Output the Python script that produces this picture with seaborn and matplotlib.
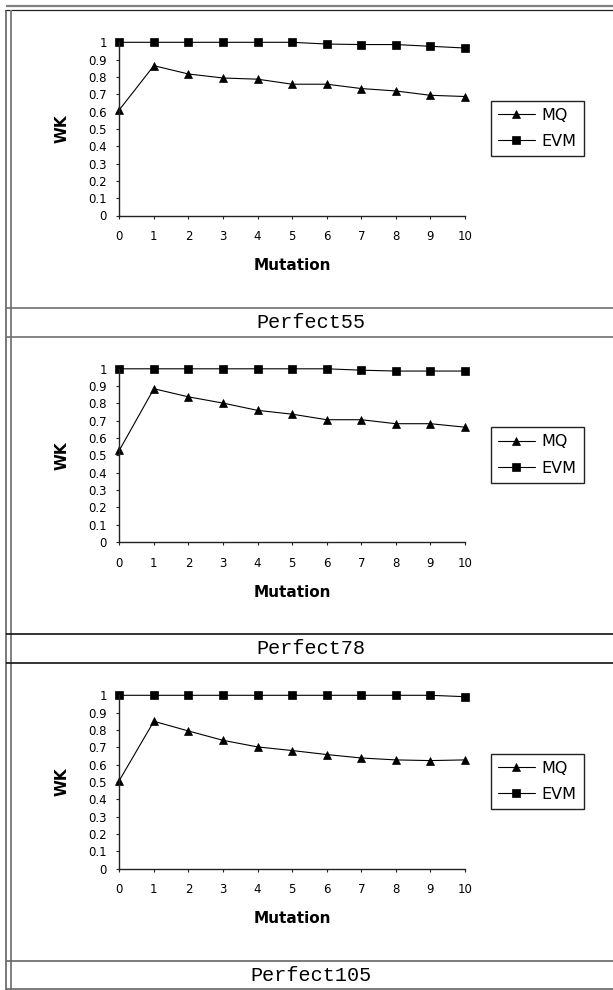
import matplotlib
matplotlib.use("Agg")
import matplotlib.pyplot as plt
import seaborn as sns
import pandas as pd

# ---- data ----
mutation = list(range(11))
panel_names = ["Perfect55", "Perfect78", "Perfect105"]
mq_55 = [0.61, 0.865, 0.817, 0.794, 0.787, 0.758, 0.758, 0.733, 0.719, 0.694, 0.687]
evm_55 = [1.0, 1.0, 1.0, 1.0, 1.0, 1.0, 0.99, 0.987, 0.987, 0.977, 0.967]
mq_78 = [0.529, 0.885, 0.838, 0.802, 0.76, 0.738, 0.706, 0.706, 0.683, 0.683, 0.663]
evm_78 = [1.0, 1.0, 1.0, 1.0, 1.0, 1.0, 1.0, 0.992, 0.987, 0.987, 0.987]
mq_105 = [0.508, 0.85, 0.794, 0.74, 0.702, 0.681, 0.658, 0.638, 0.627, 0.623, 0.627]
evm_105 = [1.0, 1.0, 1.0, 1.0, 1.0, 1.0, 1.0, 1.0, 1.0, 1.0, 0.992]
series_names = ["MQ", "EVM"]
y_ticks = [0, 0.1, 0.2, 0.3, 0.4, 0.5, 0.6, 0.7, 0.8, 0.9, 1]
y_tick_labels = ["0", "0.1", "0.2", "0.3", "0.4", "0.5", "0.6", "0.7", "0.8", "0.9", "1"]

panels = [(mq_55, evm_55), (mq_78, evm_78), (mq_105, evm_105)]

sns.set_style("white")
plt.rcParams["font.family"] = ["DejaVu Sans"]
plt.rcParams["text.color"] = "black"
plt.rcParams["axes.labelcolor"] = "black"
plt.rcParams["xtick.color"] = "black"
plt.rcParams["ytick.color"] = "black"

W, H = 613, 990
fig = plt.figure(figsize=(W / 100, H / 100), dpi=100)

# background layer for the table frame
bg = fig.add_axes([0, 0, 1, 1], zorder=-5)
bg.set_xlim(0, W)
bg.set_ylim(H, 0)
bg.axis("off")
bg.hlines(5.8, 5.5, W, color="#808080", lw=1.6)
bg.hlines(10.3, 5, W, color="#222222", lw=0.9)
bg.vlines(6.2, 10.3, H, color="#555555", lw=1.1)
bg.vlines(10.8, 10.3, H, color="#808080", lw=1.4)

row_lines = [(308, 337, "#707070"), (634, 663, "#111111"), (961, 989, "#666666")]
for (y1, y2, col), name in zip(row_lines, panel_names):
    bg.hlines([y1, y2], 6, W, color=col, lw=1.2)
    bg.text(311, (y1 + y2) / 2 + 0.5, name, ha="center", va="center",
            family=["Liberation Mono", "DejaVu Sans Mono"], fontsize=14.5, color="black")

left, right = 119.3, 465.0
for k, (mq, evm) in enumerate(panels):
    top = 42.3 + 326.5 * k
    bottom = top + 173.2
    ax = fig.add_axes([left / W, 1 - bottom / H, (right - left) / W, (bottom - top) / H])
    df = pd.DataFrame({
        "Mutation": mutation * 2,
        "WK": list(mq) + list(evm),
        "Method": [series_names[0]] * len(mq) + [series_names[1]] * len(evm),
    })
    sns.lineplot(data=df, x="Mutation", y="WK", hue="Method", style="Method",
                 hue_order=series_names, style_order=series_names,
                 markers={"MQ": "^", "EVM": "s"}, dashes=False,
                 palette={"MQ": "black", "EVM": "black"},
                 markersize=5.5, markeredgecolor="black", markeredgewidth=0.5,
                 linewidth=0.8, clip_on=False, ax=ax)
    ax.set_xlim(0, 10)
    ax.set_ylim(0, 1)
    ax.set_xticks(mutation)
    ax.set_xticklabels([str(m) for m in mutation])
    ax.set_yticks(y_ticks)
    ax.set_yticklabels(y_tick_labels)
    for side in ["top", "right"]:
        ax.spines[side].set_visible(False)
    for side in ["left", "bottom"]:
        ax.spines[side].set_color("#222222")
        ax.spines[side].set_linewidth(1.0)
    ax.tick_params(axis="both", direction="out", length=2.5, width=0.8,
                   color="#222222", labelsize=8.5, labelcolor="black")
    ax.tick_params(axis="x", pad=8, bottom=True)
    ax.tick_params(axis="y", pad=6.5, left=True)
    ax.set_xlabel("Mutation", fontsize=11, fontweight="bold", va="center", color="black")
    ax.xaxis.set_label_coords(0.5, -(265.7 - 215.5) / 173.2)
    ax.set_ylabel("WK", fontsize=11, fontweight="bold", va="center", ha="center", color="black")
    ax.yaxis.set_label_coords((62 - left) / (right - left), 0.5)
    ax.set_facecolor("none")

    handles = ax.lines[:2]
    leg = ax.get_legend()
    if leg is not None:
        leg.remove()
    ax.legend(handles, series_names, loc="upper left",
              bbox_to_anchor=(490.6 / W, 1 - (100.7 + 326.5 * k) / H),
              bbox_transform=fig.transFigure, borderaxespad=0,
              frameon=True, fancybox=False, framealpha=1, edgecolor="#222222",
              fontsize=11.5, handlelength=2.3, handletextpad=0.45,
              borderpad=0.45, labelspacing=0.7, labelcolor="black")
    ax.get_legend().get_frame().set_linewidth(1.0)

fig.savefig("out.png", dpi=100)
